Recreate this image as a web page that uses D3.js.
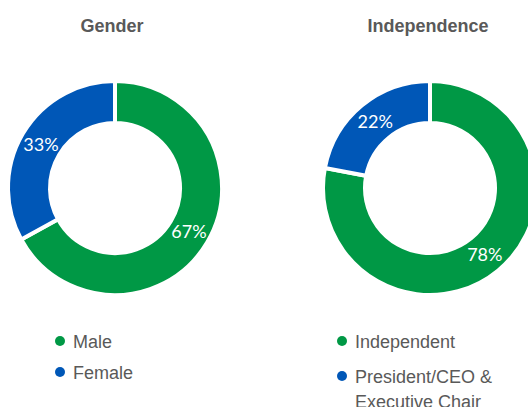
<!DOCTYPE html>
<html>
<head>
<meta charset="utf-8">
<script src="https://cdn.jsdelivr.net/npm/d3@7"></script>
<style>
  html, body { margin: 0; padding: 0; background: #fff; overflow: hidden; }
  svg { display: block; }
</style>
</head>
<body>
<div id="chart"></div>
<script>
// data
const titles = ["Gender", "Independence"];
const genderLabels = ["Male", "Female"];
const genderValues = [67, 33];
const indepLabels = ["Independent", "President/CEO & Executive Chair"];
const indepValues = [78, 22];
const colors = ["#009845", "#0057b7"];

const width = 528, height = 407;

const svg = d3.select("#chart")
    .append("svg")
    .attr("width", width)
    .attr("height", height);

const color = d3.scaleOrdinal().domain([0, 1]).range(colors);

const pie = d3.pie().sort(null).value(d => d);
const arc = d3.arc().innerRadius(65).outerRadius(107);
const labelArc = d3.arc().innerRadius(86).outerRadius(86);

const charts = [
    {title: titles[0], labels: genderLabels, values: genderValues, cx: 115, tx: 112, lx: 60},
    {title: titles[1], labels: indepLabels, values: indepValues, cx: 430, tx: 428, lx: 342}
];

charts.forEach(c => {
    svg.append("text")
        .attr("x", c.tx)
        .attr("y", 32)
        .attr("text-anchor", "middle")
        .style("font-family", "Liberation Sans, Arial, sans-serif")
        .style("font-weight", "bold")
        .style("font-size", "18px")
        .style("fill", "#595959")
        .text(c.title);

    const g = svg.append("g")
        .attr("transform", "translate(" + c.cx + ",188)");

    const arcs = pie(c.values);

    g.selectAll("path")
        .data(arcs)
        .join("path")
        .attr("d", arc)
        .style("fill", (d, i) => color(i))
        .style("stroke", "#fff")
        .style("stroke-width", 4);

    g.selectAll("text")
        .data(arcs)
        .join("text")
        .attr("transform", d => "translate(" + labelArc.centroid(d) + ")")
        .attr("dy", "0.36em")
        .attr("text-anchor", "middle")
        .style("font-family", "Lato, sans-serif")
        .style("font-size", "18px")
        .style("fill", "#fff")
        .text(d => d.data + "%");

    // legend
    const leg = svg.append("g");
    let y = 348;
    c.labels.forEach((lab, i) => {
        leg.append("circle")
            .attr("cx", c.lx)
            .attr("cy", y - 7)
            .attr("r", 5)
            .style("fill", color(i));
        // long label wraps onto two lines
        const lines = lab.length > 20 ? [lab.slice(0, lab.indexOf("&") + 1), lab.slice(lab.indexOf("&") + 2)] : [lab];
        const t = leg.append("text")
            .attr("x", c.lx + 13)
            .attr("y", y)
            .style("font-family", "Liberation Sans, Arial, sans-serif")
            .style("font-size", "18px")
            .style("fill", "#595959");
        lines.forEach((ln, j) => {
            t.append("tspan")
                .attr("x", c.lx + 13)
                .attr("dy", j ? 25 : 0)
                .text(ln);
        });
        y += lines.length > 1 ? 35 : (c.labels[i + 1] && c.labels[i + 1].length > 20 ? 35 : 31);
    });
});
</script>
</body>
</html>
